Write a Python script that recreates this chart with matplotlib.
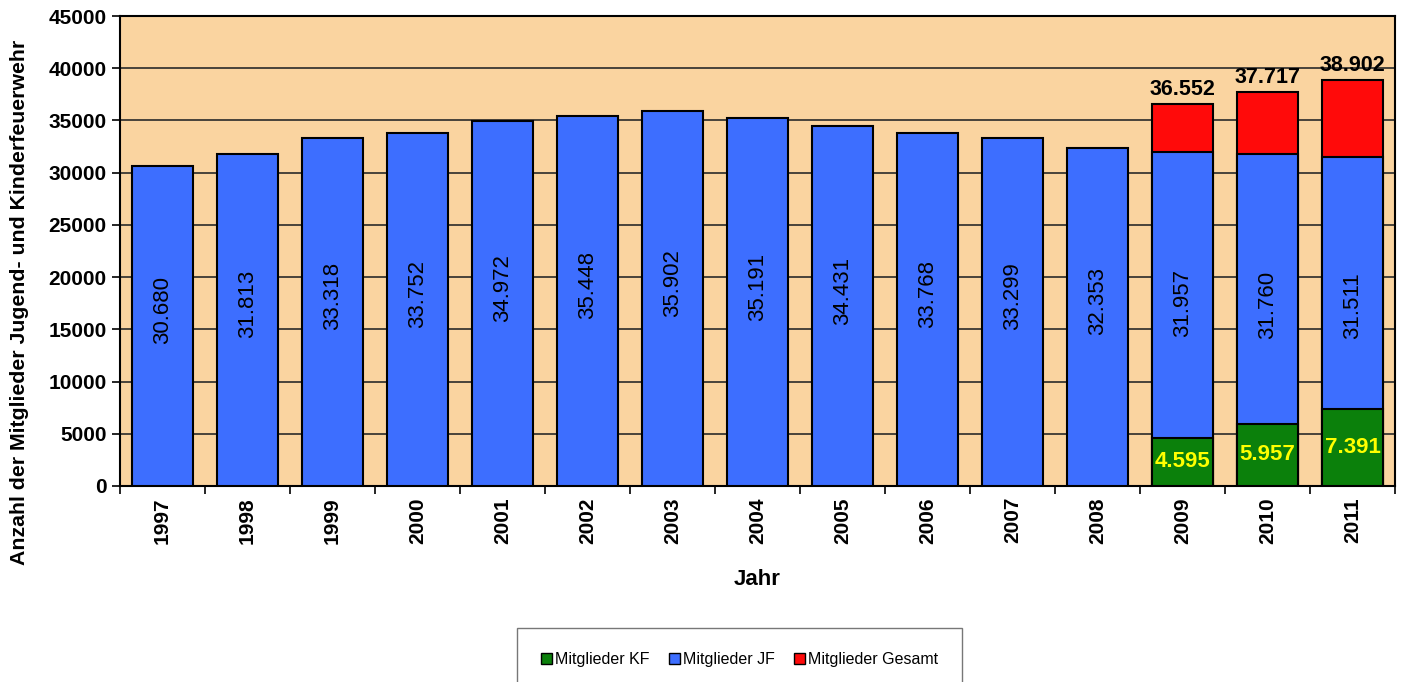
import matplotlib
matplotlib.use("Agg")
import matplotlib.pyplot as plt
import numpy as np
from matplotlib.patches import Patch

plt.rcParams['font.family'] = ['Liberation Sans', 'DejaVu Sans']

years = ['1997', '1998', '1999', '2000', '2001', '2002', '2003', '2004',
         '2005', '2006', '2007', '2008', '2009', '2010', '2011']
jf = [30680, 31813, 33318, 33752, 34972, 35448, 35902, 35191,
      34431, 33768, 33299, 32353, 31957, 31760, 31511]
jf_labels = ['30.680', '31.813', '33.318', '33.752', '34.972', '35.448', '35.902',
             '35.191', '34.431', '33.768', '33.299', '32.353', '31.957', '31.760', '31.511']
kf_years = ['2009', '2010', '2011']
kf = [4595, 5957, 7391]
kf_labels = ['4.595', '5.957', '7.391']
gesamt = [36552, 37717, 38902]
gesamt_labels = ['36.552', '37.717', '38.902']

c_green = '#0B800B'
c_blue = '#3D6EFF'
c_red = '#FF0A0A'
c_bg = '#FAD4A0'

fig = plt.figure(figsize=(14.07, 6.82), dpi=100)
ax = fig.add_axes([0.0853, 0.2874, 0.9062, 0.6891])
ax.set_facecolor(c_bg)

x = np.arange(len(years))
kx = np.array([years.index(y) for y in kf_years])
w = 0.71

ax.bar(kx, gesamt, width=w, color=c_red, edgecolor='black', linewidth=1.5, zorder=3)
ax.bar(x, jf, width=w, color=c_blue, edgecolor='black', linewidth=1.5, zorder=4)
ax.bar(kx, kf, width=w, color=c_green, edgecolor='black', linewidth=1.5, zorder=5)

for xi, v, lab in zip(x, jf, jf_labels):
    ax.text(xi, v / 2 + 1500, lab, rotation=90, ha='center', va='center',
            fontsize=16, color='black', zorder=6)
for xi, v, lab in zip(kx, kf, kf_labels):
    ax.text(xi, v / 2, lab, ha='center', va='center', fontsize=16,
            color='#FFFF00', fontweight='bold', zorder=6)
for xi, v, lab in zip(kx, gesamt, gesamt_labels):
    ax.text(xi, v + 400, lab, ha='center', va='bottom', fontsize=15.5,
            color='black', fontweight='bold', zorder=6)

ax.set_xlim(-0.5, len(years) - 0.5)
ax.set_ylim(0, 45000)
ax.set_yticks(np.arange(0, 45001, 5000))
ax.yaxis.grid(True, color='#2a2a2a', linewidth=1.2, zorder=1)
ax.set_axisbelow(True)

ax.set_xticks(x)
ax.set_xticklabels(years, rotation=90, fontsize=15, fontweight='bold')
ax.set_xticks(np.arange(-0.5, len(years), 1), minor=True)
ax.tick_params(axis='x', which='major', length=0, pad=8)
ax.tick_params(axis='x', which='minor', length=6, width=1.2)
ax.tick_params(axis='y', length=6, width=1.2, labelsize=15)
for t in ax.get_yticklabels():
    t.set_fontweight('bold')

for s in ax.spines.values():
    s.set_linewidth(1.5)
    s.set_color('black')

ax.set_xlabel('Jahr', fontsize=16, fontweight='bold', labelpad=18)
ax.set_ylabel('Anzahl der Mitglieder Jugend- und Kinderfeuerwehr', fontsize=15.3,
              fontweight='bold')
ax.yaxis.set_label_coords(-0.071, 0.39)

handles = [Patch(facecolor=c_green, edgecolor='black'),
           Patch(facecolor=c_blue, edgecolor='black'),
           Patch(facecolor=c_red, edgecolor='black')]
leg = fig.legend(handles, ['Mitglieder KF', 'Mitglieder JF', 'Mitglieder Gesamt'],
                 loc='upper center', bbox_to_anchor=(0.5256, 0.079), ncol=3,
                 fontsize=11.5, frameon=True, fancybox=False, borderpad=1.5,
                 handlelength=0.7, handleheight=0.7, handletextpad=0.2,
                 columnspacing=1.2, borderaxespad=0)
leg.get_frame().set_edgecolor('#555555')
leg.get_frame().set_linewidth(1.0)

fig.savefig('out.png', dpi=100)
